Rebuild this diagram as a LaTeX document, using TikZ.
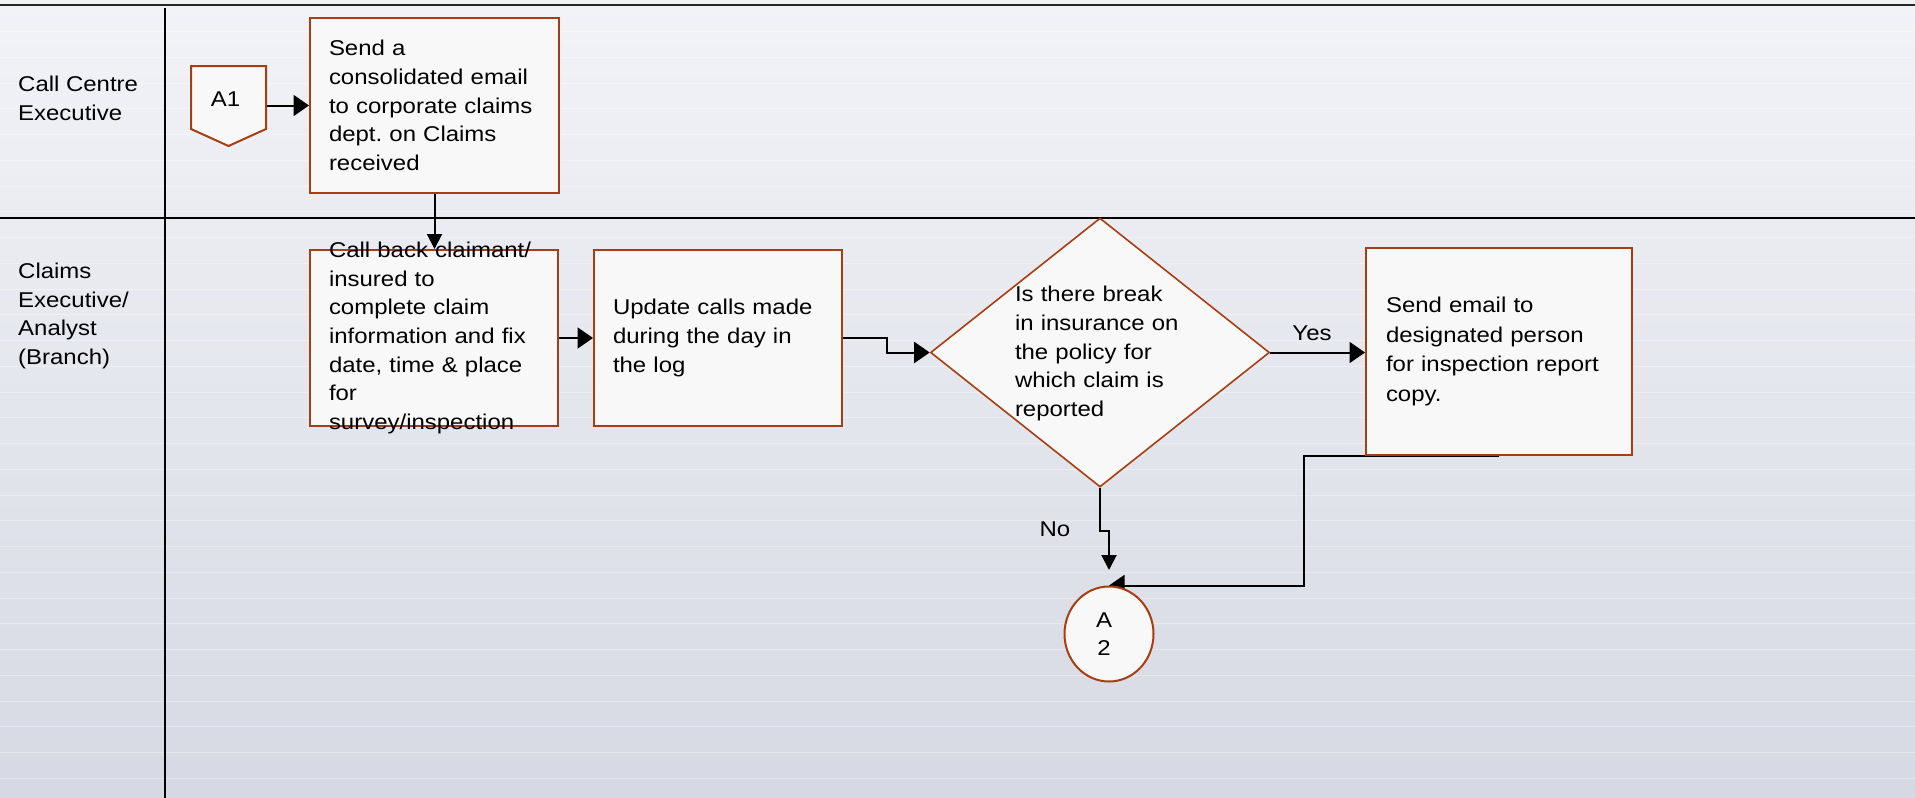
\documentclass[tikz,border=0pt]{standalone}
\usepackage{fontspec}
\setmainfont{Liberation Sans}[FakeStretch=1.12]
\usetikzlibrary{arrows.meta,shapes.geometric}
\definecolor{edgec}{RGB}{166,62,18}
\definecolor{boxfill}{RGB}{248,248,248}
\definecolor{bgtop}{RGB}{242,243,247}
\definecolor{bgbot}{RGB}{214,217,227}
\pgfdeclarelayer{back}
\pgfdeclarelayer{conn}
\pgfsetlayers{back,conn,main}
\frenchspacing
\begin{document}
\begin{tikzpicture}[x=1pt,y=-1pt,
  every node/.style={font=\fontsize{21.4}{28.7}\selectfont, text=black},
  box/.style={draw=edgec, line width=2pt, fill=boxfill, rectangle, inner sep=0pt},
  dia/.style={draw=edgec, line width=1.6pt, fill=boxfill, diamond, aspect=1.26, inner sep=0pt},
  term/.style={draw=edgec, line width=2pt, fill=boxfill, ellipse, inner sep=0pt},
  shapeedge/.style={draw=edgec, line width=2pt, fill=boxfill, line join=miter},
  boxtxt/.style={align=left, inner sep=0pt},
  hconn/.style={draw=black, line width=2pt, -{Triangle[length=15.5pt,width=21pt]}},
  vconn/.style={draw=black, line width=2pt, -{Triangle[length=15pt,width=15pt]}},
  lanetxt/.style={align=left, inner sep=0pt, anchor=west},
  laneline/.style={draw=black, line width=2pt},
  lbl/.style={inner sep=0pt},
]
\useasboundingbox (0,0) rectangle (1915,798);

\begin{pgfonlayer}{back}
  \shade[top color=bgtop, bottom color=bgbot] (0,0) rectangle (1915,798);
  \foreach \k in {0,...,29}
    \draw[white, opacity=0.35, line width=1pt] (0,{31.7+25.75*\k}) -- (1915,{31.7+25.75*\k});
  \fill[white!88!gray] (0,0) rectangle (1915,3.4);
  \draw[line width=2pt, black!85] (0,4.5) -- (1915,4.5);
  \draw[laneline] (0,217.5) -- (1915,217.5);
  \draw[laneline] (164.5,8) -- (164.5,798);
\end{pgfonlayer}

% lane labels
\node[lanetxt] (lane1) at (18,98) {Call Centre\\Executive};
\node[lanetxt] (lane2) at (18,316) {Claims\\Executive/\\Analyst\\(Branch)};

% A1 off-page connector
\draw[shapeedge] (191,66) -- (266,66) -- (266,129) -- (228.5,146) -- (191,129) -- cycle;
\node[lbl] (a1) at (225.5,99.5) {A1};
\coordinate (a1e) at (266,105.5);

% process boxes
\node[box, minimum width=249pt, minimum height=175pt,
  label={[boxtxt, text width=211pt]center:{Send a\\consolidated email\\to corporate claims\\dept. on Claims\\received}}] (b0) at (434.5,105.5) {};
\node[box, minimum width=248pt, minimum height=176pt,
  label={[boxtxt, text width=210pt]center:{Call back claimant/\\insured to\\complete claim\\information and fix\\date, time \& place\\for\\survey/inspection}}] (b1) at (434,338) {};
\node[box, minimum width=248pt, minimum height=176pt,
  label={[boxtxt, text width=210pt]center:{Update calls made\\during the day in\\the log}}] (b2) at (718,338) {};
\node[dia, minimum width=339pt, minimum height=269pt,
  label={[boxtxt, text width=170pt, yshift=-1pt]center:{Is there break\\in insurance on\\the policy for\\which claim is\\reported}}] (d) at (1100,352.5) {};
\node[box, minimum width=266pt, minimum height=207pt,
  label={[boxtxt, text width=226pt, font=\fontsize{21.4}{29.7}\selectfont]center:{Send email to\\designated person\\for inspection report\\copy.}}] (b3) at (1499,351.5) {};
\node[term, minimum width=89pt, minimum height=95pt,
  label={[align=center, inner sep=0pt, xshift=-5pt]center:{A\\2}}] (a2) at (1109,634) {};

% connector labels
\node[lbl] (yes) at (1312,333) {Yes};
\node[lbl] (no) at (1055,529) {No};

% connectors
\begin{pgfonlayer}{conn}
  \draw[hconn] (a1e) -- (b0.west);
  \draw[vconn] (b0.south) -- (b0.south |- b1.north);
  \draw[hconn] (b1.east) -- (b2.west);
  \draw[hconn] (b2.east) -- ++(44,0) |- (d.west);
  \draw[hconn] (d.east) -- (d.east -| b3.west);
  \draw[vconn, shorten >=15.5pt] (d.south) -- ++(0,43) -| (a2.north);
  \draw[hconn] (b3.south) -- ++(-195,0) |- (a2.north);
\end{pgfonlayer}
\end{tikzpicture}
\end{document}
